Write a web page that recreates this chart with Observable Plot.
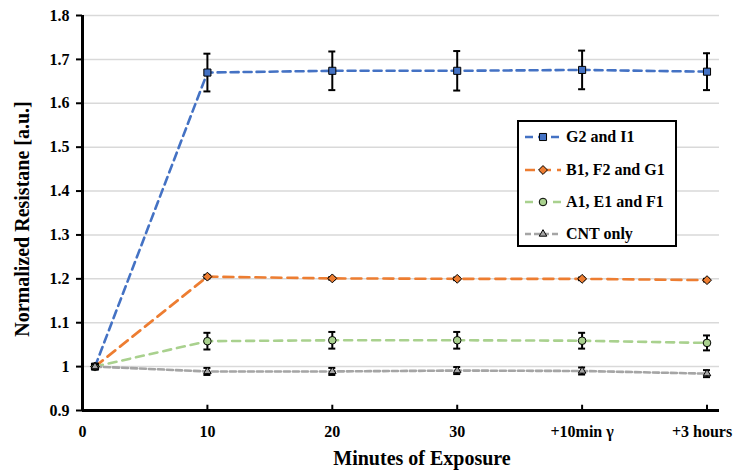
<!DOCTYPE html>
<html>
<head>
<meta charset="utf-8">
<script src="https://cdn.jsdelivr.net/npm/d3@7"></script>
<script src="https://cdn.jsdelivr.net/npm/@observablehq/plot@0.6"></script>
<style>
  body { margin: 0; background: #fff; }
  #wrap { position: relative; width: 733px; height: 475px; }
  #legend { position: absolute; left: 517px; top: 120px; width: 156px; height: 123px;
    border: 2px solid #000; background: #fff; font-family: "Liberation Serif", "Times New Roman", serif; font-weight: bold; font-size: 16px; }
  .row { position: absolute; left: 4px; height: 20px; display: flex; align-items: center; }
  .row svg { width: 40px; height: 16px; margin-right: 3px; }
</style>
</head>
<body>
<div id="wrap"><div id="legend"></div></div>
<script>
const xTicks = [0, 10, 20, 30, 40, 50];
const xTickLabels = ["0", "10", "20", "30", "+10min \u03b3", "+3 hours"];
const yTicks = [0.9, 1.0, 1.1, 1.2, 1.3, 1.4, 1.5, 1.6, 1.7, 1.8];
const xs = [1, 10, 20, 30, 40, 50];
const seriesNames = ["G2 and I1", "B1, F2 and G1", "A1, E1 and F1", "CNT only"];
const g2 = [1, 1.670, 1.674, 1.674, 1.676, 1.672];
const g2Err = [0.004, 0.043, 0.044, 0.045, 0.044, 0.042];
const b1 = [1, 1.205, 1.201, 1.200, 1.200, 1.197];
const b1Err = [0.004, 0.004, 0.003, 0.003, 0.003, 0.003];
const a1 = [1, 1.058, 1.060, 1.060, 1.059, 1.054];
const a1Err = [0.005, 0.019, 0.019, 0.019, 0.018, 0.017];
const cnt = [1, 0.989, 0.989, 0.991, 0.990, 0.984];
const cntErr = [0.005, 0.008, 0.008, 0.008, 0.008, 0.008];

const styles = [
  {color: "#4472C4", symbol: "square", d3sym: "symbolSquare", r: 4, dash: "8,5"},
  {color: "#ED7D31", symbol: "diamond2", d3sym: "symbolDiamond2", r: 4, dash: "10,6"},
  {color: "#A9D18E", symbol: "circle", d3sym: "symbolCircle", r: 3.8, dash: "8,6"},
  {color: "#A5A5A5", symbol: "triangle", d3sym: "symbolTriangle", r: 2.8, dash: "6,3"}
];
const values = [g2, b1, a1, cnt];
const errs = [g2Err, b1Err, a1Err, cntErr];

const series = seriesNames.map((name, i) => ({
  name, ...styles[i],
  data: xs.map((x, j) => ({x, y: values[i][j], e: errs[i][j]}))
}));

const fmtX = d => xTickLabels[xTicks.indexOf(d)];
const marks = [
  Plot.gridY(yTicks.filter(t => t > 0.9), {stroke: "#d9d9d9", strokeOpacity: 1, strokeWidth: 1.5}),
];
for (const s of series) {
  marks.push(Plot.line(s.data, {x: "x", y: "y", stroke: s.color, strokeWidth: 2.6, strokeDasharray: s.dash}));
}
for (const s of series) {
  marks.push(Plot.ruleX(s.data, {x: "x", y1: d => d.y - d.e, y2: d => d.y + d.e, stroke: "#000", strokeWidth: 2}));
  marks.push(Plot.ruleY(s.data, {y: d => d.y + d.e, x1: d => d.x - 0.28, x2: d => d.x + 0.28, stroke: "#000", strokeWidth: 2}));
  marks.push(Plot.ruleY(s.data, {y: d => d.y - d.e, x1: d => d.x - 0.28, x2: d => d.x + 0.28, stroke: "#000", strokeWidth: 2}));
  marks.push(Plot.dot(s.data, {x: "x", y: "y", symbol: s.symbol, r: s.r, fill: s.color, stroke: "#000", strokeWidth: 1}));
}
marks.push(
  Plot.ruleX(xTicks.filter(t => t > 0), {x: d => d, y1: 0.9, y2: 0.912, stroke: "#000", strokeWidth: 2}),
  Plot.ruleX([0], {stroke: "#000", strokeWidth: 3}),
  Plot.ruleY([0.9], {stroke: "#000", strokeWidth: 3}),
  Plot.axisY(yTicks, {tickSize: 6, tickPadding: 7, strokeWidth: 2, tickFormat: d => String(Math.round(d * 10) / 10), fontSize: 16, fontWeight: "bold", label: null}),
  Plot.axisX(xTicks.slice(0, -1), {tickSize: 0, tickPadding: 15, tickFormat: fmtX, fontSize: 16, fontWeight: "bold", label: null}),
  Plot.axisX(xTicks.slice(-1), {tickSize: 0, tickPadding: 15, dx: -5, tickFormat: fmtX, fontSize: 16, fontWeight: "bold", label: null}),
  Plot.text(["Minutes of Exposure"], {frameAnchor: "bottom", dy: 54, dx: 21, fontSize: 20, fontWeight: "bold", fill: "#000"}),
  Plot.text(["Normalized Resistane [a.u.]"], {frameAnchor: "left", textAnchor: "middle", dx: -60, dy: 6, rotate: -90, fontSize: 20, fontWeight: "bold", fill: "#000"})
);

const chart = Plot.plot({
  width: 733, height: 475,
  marginLeft: 82, marginRight: 14, marginTop: 15, marginBottom: 65,
  style: {fontFamily: "'Liberation Serif', 'Times New Roman', serif", background: "#fff", color: "#000", overflow: "visible"},
  x: {domain: [0, 51]},
  y: {domain: [0.9, 1.8]},
  marks
});
document.getElementById("wrap").prepend(chart);

// Legend
const legend = document.getElementById("legend");
const tops = [5, 38, 70, 102];
series.forEach((s, i) => {
  const row = document.createElement("div");
  row.className = "row";
  row.style.top = tops[i] + "px";
  const sym = d3.symbol(d3[s.d3sym], Math.PI * s.r * s.r)();
  row.innerHTML = `<svg viewBox="0 0 40 16"><line x1="2" y1="8" x2="38" y2="8" stroke="${s.color}" stroke-width="2.6" stroke-dasharray="${s.dash}"/>` +
    `<path transform="translate(20,8)" d="${sym}" fill="${s.color}" stroke="#000" stroke-width="1"/></svg><span>${s.name}</span>`;
  legend.appendChild(row);
});
</script>
</body>
</html>
